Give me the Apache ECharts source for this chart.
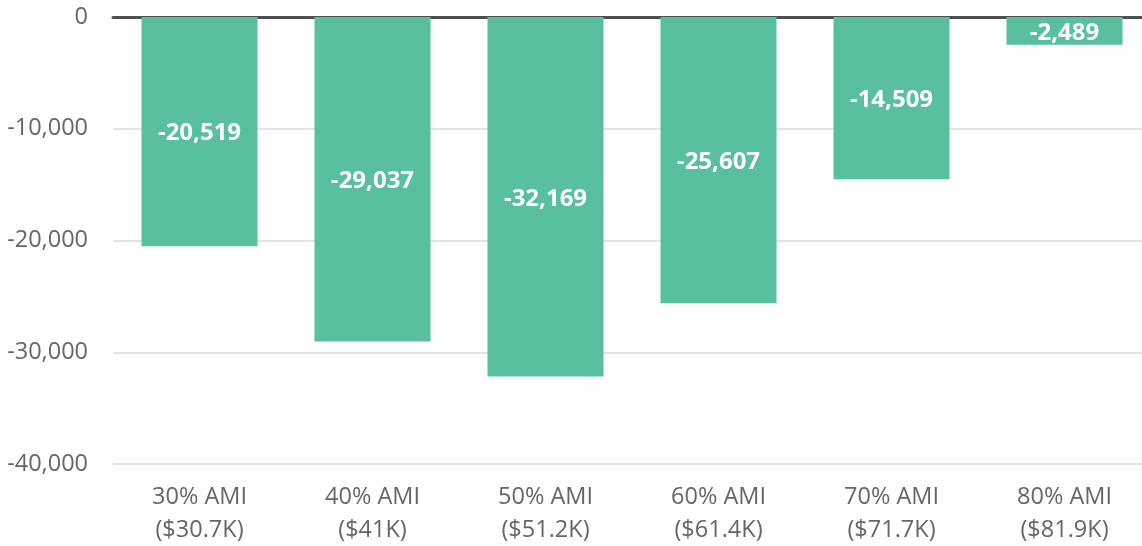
<!DOCTYPE html>
<html><head><meta charset="utf-8">
<script src="https://cdn.jsdelivr.net/npm/echarts@6/dist/echarts.min.js"></script>
<style>html,body{margin:0;padding:0;background:#fff;overflow:hidden;width:1142px;height:546px}#c{width:1151px;height:546px}</style>
</head><body><div id="c"></div>
<script>
const categories = ['30% AMI\n($30.7K)','40% AMI\n($41K)','50% AMI\n($51.2K)','60% AMI\n($61.4K)','70% AMI\n($71.7K)','80% AMI\n($81.9K)'];
const values = [-20519,-29037,-32169,-25607,-14509,-2489];
const yTicks = {min:-40000, max:0, interval:10000};
const chart = echarts.init(document.getElementById('c'));
const fmt = v => v.toLocaleString('en-US');
chart.setOption({
  animation:false,
  textStyle:{fontFamily:'Open Sans'},
  grid:{left:113, right:0, top:17, bottom:82, containLabel:false, outerBoundsMode:'none'},
  xAxis:[{
    type:'category', data:categories, position:'bottom',
    axisLine:{show:false, onZero:false}, axisTick:{show:false},
    axisLabel:{fontSize:23.5, color:'#666', lineHeight:33, margin:17, fontFamily:'Open Sans'}
  },{
    type:'category', data:categories, position:'top',
    axisLine:{show:true, onZero:false, lineStyle:{color:'#4d5052', width:3}},
    axisTick:{show:false}, axisLabel:{show:false}
  }],
  yAxis:{
    type:'value', min:yTicks.min, max:yTicks.max, interval:yTicks.interval,
    axisLine:{show:false}, axisTick:{show:false},
    splitLine:{lineStyle:{color:'#e3e3e3', width:2}},
    axisLabel:{fontSize:23.5, color:'#666', margin:25, formatter:v=>fmt(v), fontFamily:'Open Sans'}
  },
  series:[{
    type:'bar', data:values, barWidth:116, xAxisIndex:0,
    itemStyle:{color:'#58bf9f'},
    label:{show:true, position:'inside', offset:[0,2], color:'#fff', fontWeight:'bold', fontSize:24, fontFamily:'Open Sans', formatter:p=>fmt(p.value)}
  }]
});
</script></body></html>
